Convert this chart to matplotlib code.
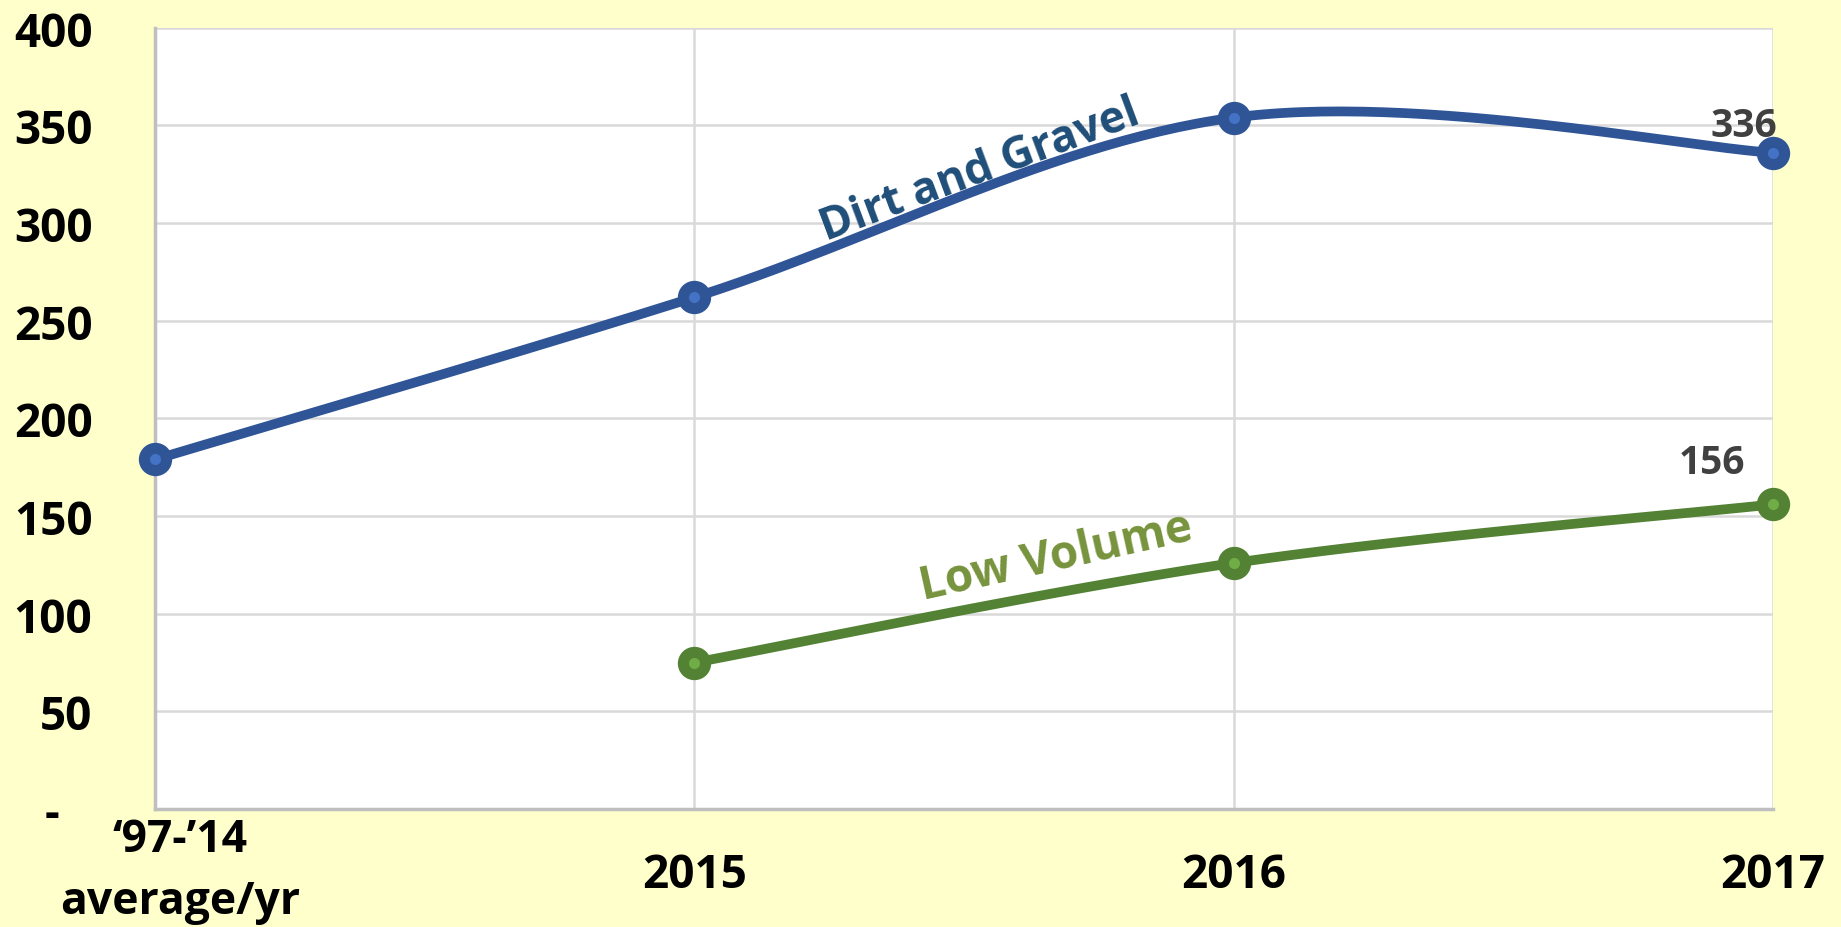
import numpy as np
import matplotlib
matplotlib.use("Agg")
import matplotlib.pyplot as plt
from matplotlib.transforms import ScaledTranslation

# dati
categories = ["\u201897-\u201914\naverage/yr", "2015", "2016", "2017"]
dirt_gravel = [179, 262, 354, 336]
low_volume = [None, 75, 126, 156]
y_ticks = [0, 50, 100, 150, 200, 250, 300, 350, 400]
y_tick_labels = ["-", "50", "100", "150", "200", "250", "300", "350", "400"]

plt.rcParams['font.family'] = ['Open Sans', 'DejaVu Sans']
plt.rcParams['font.weight'] = 'bold'


def smooth_line(xs, ys, n=60):
    # curva tipo Excel "linea smussata" (bezier cubica)
    xs = np.asarray(xs, float)
    ys = np.asarray(ys, float)
    pts = np.column_stack([xs, ys])
    out = []
    for i in range(len(pts) - 1):
        p0 = pts[i]
        p3 = pts[i + 1]
        prev = pts[i - 1] if i > 0 else pts[i]
        nxt = pts[i + 2] if i + 2 < len(pts) else pts[i + 1]
        c1 = p0 + (p3 - prev) / 6
        c2 = p3 - (nxt - p0) / 6
        t = np.linspace(0, 1, n)[:, None]
        seg = ((1 - t) ** 3) * p0 + 3 * ((1 - t) ** 2) * t * c1 + 3 * (1 - t) * t ** 2 * c2 + t ** 3 * p3
        out.append(seg)
    curve = np.vstack(out)
    return curve[:, 0], curve[:, 1]


bg = '#FFFFCC'
fig = plt.figure(figsize=(18.41, 9.28), dpi=100, facecolor=bg)
ax = fig.add_axes([0.0842, 0.127, 0.963 - 0.0842, 0.969 - 0.127])
ax.set_facecolor('white')

x = np.arange(len(categories))

# Dirt and Gravel
blue = '#2F5597'
sx, sy = smooth_line(x, dirt_gravel)
ax.plot(sx, sy, color=blue, lw=7, solid_capstyle='round', clip_on=False, zorder=3)
ax.plot(x, dirt_gravel, 'o', ms=16, mfc='#4472C4', mec=blue, mew=8, clip_on=False, zorder=4)

# Low Volume
green = '#548235'
lx = [xi for xi, v in zip(x, low_volume) if v is not None]
ly = [v for v in low_volume if v is not None]
sx2, sy2 = smooth_line(lx, ly)
ax.plot(sx2, sy2, color=green, lw=7, solid_capstyle='round', clip_on=False, zorder=3)
ax.plot(lx, ly, 'o', ms=16, mfc='#70AD47', mec=green, mew=8, clip_on=False, zorder=4)

# etichette delle serie
ax.text(1.53, 327, "Dirt and Gravel", color='#1F4E79', fontsize=32, fontweight='bold',
        rotation=20.5, ha='center', va='center', rotation_mode='anchor', zorder=5)
ax.text(1.67, 129, "Low Volume", color='#77933C', fontsize=33, fontweight='bold',
        rotation=12.5, ha='center', va='center', rotation_mode='anchor', zorder=5)

# etichette dei valori finali
ax.annotate(str(dirt_gravel[-1]), (x[-1], dirt_gravel[-1]), xytext=(-21, 20),
            textcoords='offset points', ha='center', va='center',
            fontsize=28, fontweight='bold', color='#404040', zorder=5)
ax.annotate(str(low_volume[-1]), (x[-1], low_volume[-1]), xytext=(-44, 30),
            textcoords='offset points', ha='center', va='center',
            fontsize=28, fontweight='bold', color='#404040', zorder=5)

ax.set_xlim(0, 3)
ax.set_ylim(0, 400)
ax.set_yticks(y_ticks)
ax.set_yticklabels(y_tick_labels)
ax.set_xticks(x)
ax.set_xticklabels(categories, linespacing=1.5)

ax.grid(True, color='#D9D9D9', lw=1.8, zorder=0)
ax.set_axisbelow(True)
for s in ['top', 'right']:
    ax.spines[s].set_visible(False)
for s in ['left', 'bottom']:
    ax.spines[s].set_color('#BFBFBF')
    ax.spines[s].set_linewidth(2.5)

ax.tick_params(axis='y', length=0, pad=45, labelsize=33)
ax.tick_params(axis='x', length=0, pad=47, labelsize=33)
for lab in ax.get_yticklabels():
    lab.set_fontweight('bold')
for lab in ax.get_xticklabels():
    lab.set_fontweight('bold')
    lab.set_va('center')
first = ax.get_xticklabels()[0]
first.set_fontsize(32)
first.set_transform(first.get_transform() + ScaledTranslation(0.25, 0.04, fig.dpi_scale_trans))
zero = ax.get_yticklabels()[0]
zero.set_transform(zero.get_transform() + ScaledTranslation(-0.33, 0, fig.dpi_scale_trans))

fig.savefig("out.png", dpi=100, facecolor=bg)
